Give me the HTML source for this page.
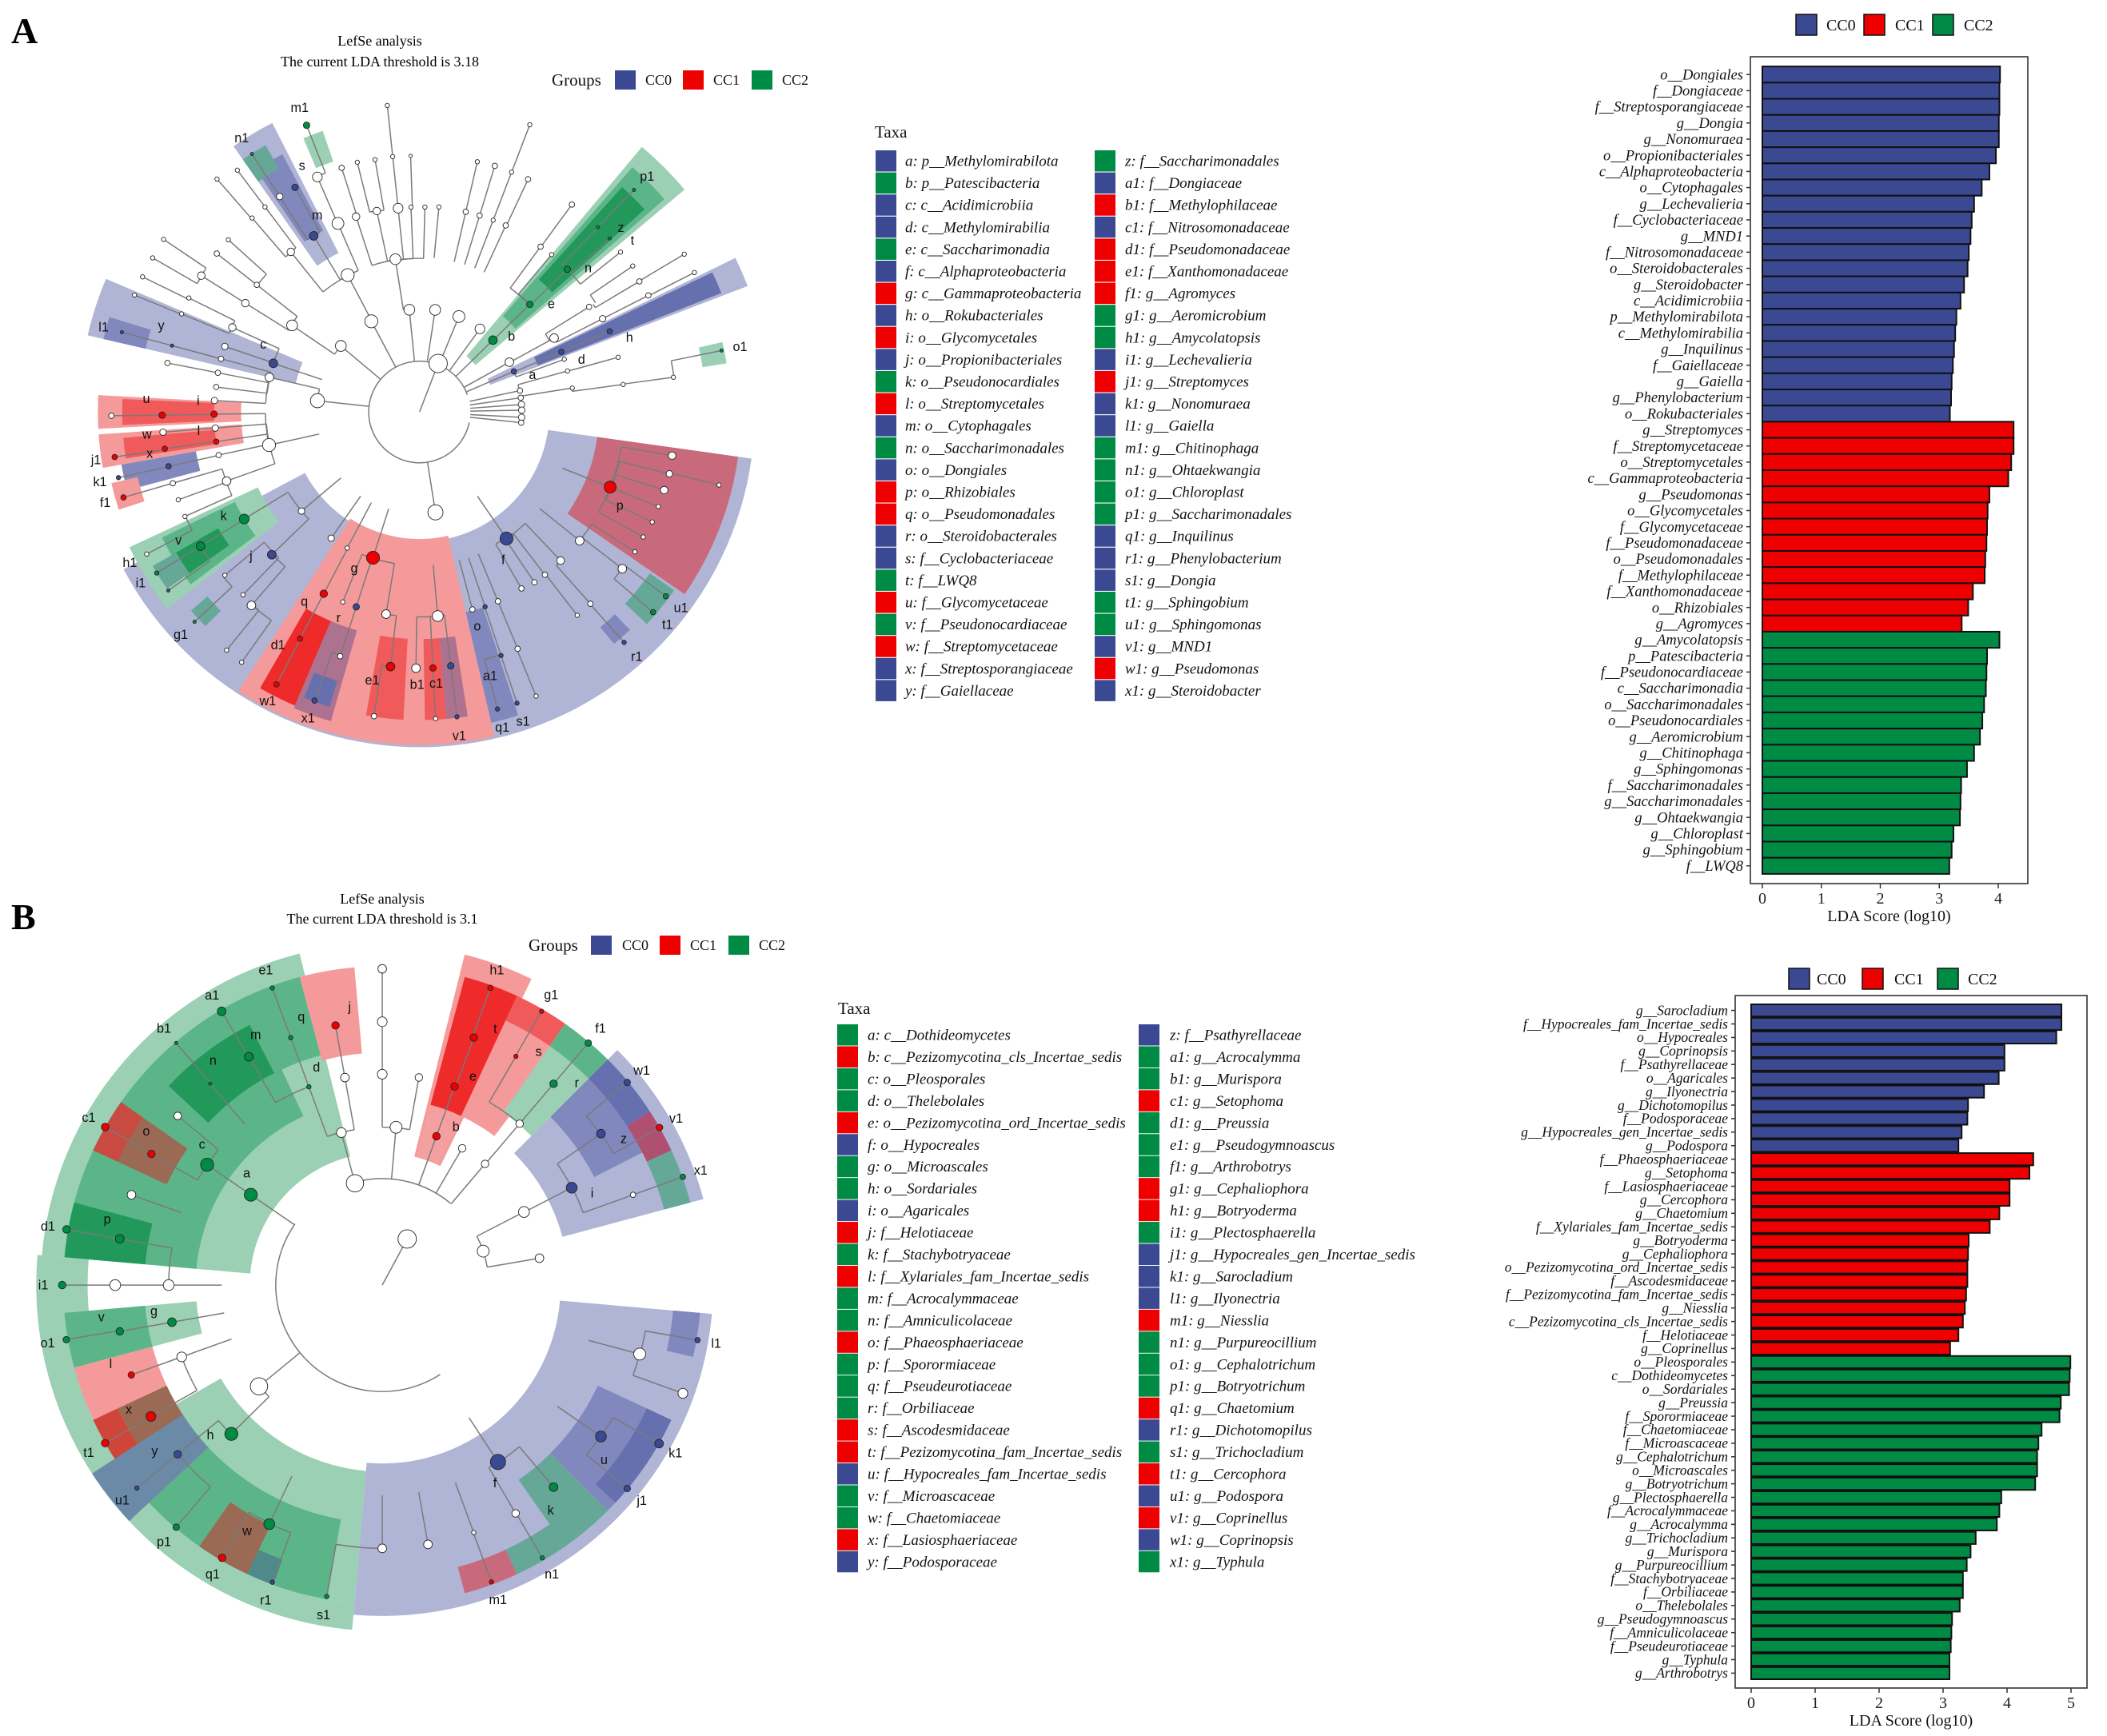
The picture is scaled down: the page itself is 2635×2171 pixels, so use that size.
<!DOCTYPE html>
<html><head><meta charset="utf-8">
<style>
html,body{margin:0;padding:0;background:#fff;}
svg{display:block;}
text{font-family:"Liberation Serif",serif;}
</style></head>
<body>
<svg id="fig" width="2635" height="2171" viewBox="0 0 2635 2171" xmlns="http://www.w3.org/2000/svg">
<rect x="0" y="0" width="2635" height="2171" fill="#fff"/>
<text x="14" y="54" font-size="46" font-weight="bold">A</text>
<text x="14" y="1162" font-size="46" font-weight="bold">B</text>
<text x="475" y="57" font-size="18" text-anchor="middle">LefSe analysis</text>
<text x="475" y="83" font-size="18" text-anchor="middle">The current LDA threshold is 3.18</text>
<text x="478" y="1130" font-size="18" text-anchor="middle">LefSe analysis</text>
<text x="478" y="1155" font-size="18" text-anchor="middle">The current LDA threshold is 3.1</text>
<g id="layer"></g>
</svg>
<script>
const NS="http://www.w3.org/2000/svg";
const COL={B:"#3B4992",R:"#EE0000",G:"#008B45",w:"#ffffff"};
// ---------- data: top bar chart ----------
const topLabels=["o__Dongiales","f__Dongiaceae","f__Streptosporangiaceae","g__Dongia","g__Nonomuraea","o__Propionibacteriales","c__Alphaproteobacteria","o__Cytophagales","g__Lechevalieria","f__Cyclobacteriaceae","g__MND1","f__Nitrosomonadaceae","o__Steroidobacterales","g__Steroidobacter","c__Acidimicrobiia","p__Methylomirabilota","c__Methylomirabilia","g__Inquilinus","f__Gaiellaceae","g__Gaiella","g__Phenylobacterium","o__Rokubacteriales","g__Streptomyces","f__Streptomycetaceae","o__Streptomycetales","c__Gammaproteobacteria","g__Pseudomonas","o__Glycomycetales","f__Glycomycetaceae","f__Pseudomonadaceae","o__Pseudomonadales","f__Methylophilaceae","f__Xanthomonadaceae","o__Rhizobiales","g__Agromyces","g__Amycolatopsis","p__Patescibacteria","f__Pseudonocardiaceae","c__Saccharimonadia","o__Saccharimonadales","o__Pseudonocardiales","g__Aeromicrobium","g__Chitinophaga","g__Sphingomonas","f__Saccharimonadales","g__Saccharimonadales","g__Ohtaekwangia","g__Chloroplast","g__Sphingobium","f__LWQ8"];
const topValues=[4.03,4.02,4.02,4.01,4.01,3.96,3.85,3.72,3.59,3.55,3.53,3.50,3.48,3.42,3.36,3.29,3.27,3.25,3.23,3.21,3.20,3.18,4.26,4.26,4.22,4.17,3.85,3.82,3.81,3.80,3.78,3.77,3.57,3.49,3.38,4.02,3.81,3.80,3.79,3.76,3.73,3.69,3.59,3.47,3.37,3.36,3.35,3.24,3.21,3.17];
const topGroups="BBBBBBBBBBBBBBBBBBBBBBRRRRRRRRRRRRRGGGGGGGGGGGGGGG".split("");
const topTicks=[0,1,2,3,4];
// ---------- data: bottom bar chart ----------
const botLabels=["g__Sarocladium","f__Hypocreales_fam_Incertae_sedis","o__Hypocreales","g__Coprinopsis","f__Psathyrellaceae","o__Agaricales","g__Ilyonectria","g__Dichotomopilus","f__Podosporaceae","g__Hypocreales_gen_Incertae_sedis","g__Podospora","f__Phaeosphaeriaceae","g__Setophoma","f__Lasiosphaeriaceae","g__Cercophora","g__Chaetomium","f__Xylariales_fam_Incertae_sedis","g__Botryoderma","g__Cephaliophora","o__Pezizomycotina_ord_Incertae_sedis","f__Ascodesmidaceae","f__Pezizomycotina_fam_Incertae_sedis","g__Niesslia","c__Pezizomycotina_cls_Incertae_sedis","f__Helotiaceae","g__Coprinellus","o__Pleosporales","c__Dothideomycetes","o__Sordariales","g__Preussia","f__Sporormiaceae","f__Chaetomiaceae","f__Microascaceae","g__Cephalotrichum","o__Microascales","g__Botryotrichum","g__Plectosphaerella","f__Acrocalymmaceae","g__Acrocalymma","g__Trichocladium","g__Murispora","g__Purpureocillium","f__Stachybotryaceae","f__Orbiliaceae","o__Thelebolales","g__Pseudogymnoascus","f__Amniculicolaceae","f__Pseudeurotiaceae","g__Typhula","g__Arthrobotrys"];
const botValues=[4.85,4.85,4.77,3.96,3.96,3.87,3.64,3.39,3.38,3.29,3.24,4.41,4.35,4.04,4.04,3.88,3.73,3.40,3.39,3.38,3.38,3.36,3.34,3.31,3.24,3.11,4.99,4.98,4.97,4.84,4.82,4.54,4.49,4.47,4.47,4.44,3.91,3.88,3.84,3.51,3.43,3.37,3.31,3.31,3.26,3.14,3.13,3.12,3.10,3.10];
const botGroups="BBBBBBBBBBBRRRRRRRRRRRRRRRGGGGGGGGGGGGGGGGGGGGGGGG".split("");
const botTicks=[0,1,2,3,4,5];
// ---------- taxa legends ----------
const taxaA=[["a: p__Methylomirabilota","B"],["b: p__Patescibacteria","G"],["c: c__Acidimicrobiia","B"],["d: c__Methylomirabilia","B"],["e: c__Saccharimonadia","G"],["f: c__Alphaproteobacteria","B"],["g: c__Gammaproteobacteria","R"],["h: o__Rokubacteriales","B"],["i: o__Glycomycetales","R"],["j: o__Propionibacteriales","B"],["k: o__Pseudonocardiales","G"],["l: o__Streptomycetales","R"],["m: o__Cytophagales","B"],["n: o__Saccharimonadales","G"],["o: o__Dongiales","B"],["p: o__Rhizobiales","R"],["q: o__Pseudomonadales","R"],["r: o__Steroidobacterales","B"],["s: f__Cyclobacteriaceae","B"],["t: f__LWQ8","G"],["u: f__Glycomycetaceae","R"],["v: f__Pseudonocardiaceae","G"],["w: f__Streptomycetaceae","R"],["x: f__Streptosporangiaceae","B"],["y: f__Gaiellaceae","B"],
["z: f__Saccharimonadales","G"],["a1: f__Dongiaceae","B"],["b1: f__Methylophilaceae","R"],["c1: f__Nitrosomonadaceae","B"],["d1: f__Pseudomonadaceae","R"],["e1: f__Xanthomonadaceae","R"],["f1: g__Agromyces","R"],["g1: g__Aeromicrobium","G"],["h1: g__Amycolatopsis","G"],["i1: g__Lechevalieria","B"],["j1: g__Streptomyces","R"],["k1: g__Nonomuraea","B"],["l1: g__Gaiella","B"],["m1: g__Chitinophaga","G"],["n1: g__Ohtaekwangia","G"],["o1: g__Chloroplast","G"],["p1: g__Saccharimonadales","G"],["q1: g__Inquilinus","B"],["r1: g__Phenylobacterium","B"],["s1: g__Dongia","B"],["t1: g__Sphingobium","G"],["u1: g__Sphingomonas","G"],["v1: g__MND1","B"],["w1: g__Pseudomonas","R"],["x1: g__Steroidobacter","B"]];
const taxaB=[["a: c__Dothideomycetes","G"],["b: c__Pezizomycotina_cls_Incertae_sedis","R"],["c: o__Pleosporales","G"],["d: o__Thelebolales","G"],["e: o__Pezizomycotina_ord_Incertae_sedis","R"],["f: o__Hypocreales","B"],["g: o__Microascales","G"],["h: o__Sordariales","G"],["i: o__Agaricales","B"],["j: f__Helotiaceae","R"],["k: f__Stachybotryaceae","G"],["l: f__Xylariales_fam_Incertae_sedis","R"],["m: f__Acrocalymmaceae","G"],["n: f__Amniculicolaceae","G"],["o: f__Phaeosphaeriaceae","R"],["p: f__Sporormiaceae","G"],["q: f__Pseudeurotiaceae","G"],["r: f__Orbiliaceae","G"],["s: f__Ascodesmidaceae","R"],["t: f__Pezizomycotina_fam_Incertae_sedis","R"],["u: f__Hypocreales_fam_Incertae_sedis","B"],["v: f__Microascaceae","G"],["w: f__Chaetomiaceae","G"],["x: f__Lasiosphaeriaceae","R"],["y: f__Podosporaceae","B"],
["z: f__Psathyrellaceae","B"],["a1: g__Acrocalymma","G"],["b1: g__Murispora","G"],["c1: g__Setophoma","R"],["d1: g__Preussia","G"],["e1: g__Pseudogymnoascus","G"],["f1: g__Arthrobotrys","G"],["g1: g__Cephaliophora","R"],["h1: g__Botryoderma","R"],["i1: g__Plectosphaerella","G"],["j1: g__Hypocreales_gen_Incertae_sedis","B"],["k1: g__Sarocladium","B"],["l1: g__Ilyonectria","B"],["m1: g__Niesslia","R"],["n1: g__Purpureocillium","G"],["o1: g__Cephalotrichum","G"],["p1: g__Botryotrichum","G"],["q1: g__Chaetomium","R"],["r1: g__Dichotomopilus","B"],["s1: g__Trichocladium","G"],["t1: g__Cercophora","R"],["u1: g__Podospora","B"],["v1: g__Coprinellus","R"],["w1: g__Coprinopsis","B"],["x1: g__Typhula","G"]];

const layer=document.getElementById("layer");
function el(tag,attrs,parent){const e=document.createElementNS(NS,tag);for(const k in attrs)e.setAttribute(k,attrs[k]);(parent||layer).appendChild(e);return e;}
function txt(s,attrs,parent){const e=el("text",attrs,parent);e.textContent=s;return e;}

// ---------- bar chart ----------
function barChart(o){
  const g=el("g",{});
  
  
  const n=o.labels.length, unit=(o.y1-o.y0)/(n+1.2);
  const xs=v=>o.x0+v*o.unit;
  const fr=el("rect",{x:o.px0,y:o.y0,width:o.px1-o.px0,height:o.y1-o.y0,fill:"#fff",stroke:"#333","stroke-width":1.6},g);
  
  
  for(let i=0;i<n;i++){
    const cy=o.y0+(0.6+i+0.5)*unit, bh=unit*o.bw;
    const r=el("rect",{x:xs(0),y:cy-bh/2,width:xs(o.values[i])-xs(0),height:bh,fill:COL[o.groups[i]],stroke:"#111","stroke-width":2},g);
    
    
    el("line",{x1:o.px0-5,x2:o.px0,y1:cy,y2:cy,stroke:"#333","stroke-width":1.5},g);
    const t=txt(o.labels[i],{x:o.px0-9,y:cy+o.fs*0.33,"font-size":o.fs,"font-style":"italic","text-anchor":"end",fill:"#111"},g);
    
    
  }
  o.ticks.forEach(v=>{
    el("line",{x1:xs(v),x2:xs(v),y1:o.y1,y2:o.y1+6,stroke:"#333","stroke-width":1.5},g);
    const t=txt(String(v),{x:xs(v),y:o.y1+25,"font-size":20,"text-anchor":"middle",fill:"#222"},g);
    
    
  });
  const at=txt("LDA Score (log10)",{x:(o.px0+o.px1)/2,y:o.y1+47,"font-size":20,"text-anchor":"middle",fill:"#111"},g);
  
  
  const lg=el("g",{},g);
  
  
  o.leg.forEach(([bx,tx,k,lab])=>{
    const b=el("rect",{x:bx,y:o.ly,width:26,height:26,fill:COL[k],stroke:"#111","stroke-width":1.5},lg);
    
    
    const t=txt(lab,{x:tx,y:o.ly+20,"font-size":20,fill:"#111"},lg);
    
    
  });
}
barChart({name:"lda-bar-chart-a",labels:topLabels,values:topValues,groups:topGroups,ticks:topTicks,x0:2204,unit:73.75,px0:2189,px1:2536,y0:71,y1:1105,bw:1.0,fs:18.5,ly:18,leg:[[2246,2284,"B","CC0"],[2331,2370,"R","CC1"],[2417,2456,"G","CC2"]]});
barChart({name:"lda-bar-chart-b",labels:botLabels,values:botValues,groups:botGroups,ticks:botTicks,x0:2190,unit:80,px0:2170,px1:2610,y0:1245,y1:2111,bw:0.9,fs:17.5,ly:1211,leg:[[2237,2272,"B","CC0"],[2329,2369,"R","CC1"],[2423,2461,"G","CC2"]]});

// ---------- taxa legends ----------
function taxaLegend(list,o){
  const g=el("g",{});
  
  
  const tt=txt("Taxa",{x:o.tx,y:o.ty,"font-size":21,fill:"#111"},g);
  
  
  list.forEach(([s,k],i)=>{
    const c=Math.floor(i/25), r=i%25;
    const cy=o.y0+r*o.step, bx=o.bx[c];
    const b=el("rect",{x:bx,y:cy-13,width:26,height:26.5,fill:COL[k]},g);
    
    
    const t=txt(s,{x:o.txx[c],y:cy+6.5,"font-size":19,"font-style":"italic",fill:"#111"},g);
    
    
  });
}
taxaLegend(taxaA,{name:"taxa-legend-a",tx:1094,ty:172,y0:201,step:27.6,bx:[1095,1369],txx:[1132,1407]});
taxaLegend(taxaB,{name:"taxa-legend-b",tx:1048,ty:1268,y0:1294,step:27.45,bx:[1047,1424],txx:[1085,1463]});

// ---------- group legends ----------
function groupLegend(o){
  const g=el("g",{});
  
  
  const t=txt("Groups",{x:o.gx,y:o.y+19,"font-size":21,fill:"#111"},g);
  
  
  o.items.forEach(([bx,tx,k,lab])=>{
    const b=el("rect",{x:bx,y:o.y,width:26,height:24,fill:COL[k]},g);
    
    
    const l=txt(lab,{x:tx,y:o.y+18,"font-size":18,fill:"#111"},g);
    
    
  });
}
groupLegend({name:"groups-legend-a",gx:690,y:88,items:[[769,807,"B","CC0"],[854,892,"R","CC1"],[940,978,"G","CC2"]]});
groupLegend({name:"groups-legend-b",gx:661,y:1170,items:[[739,778,"B","CC0"],[825,863,"R","CC1"],[911,949,"G","CC2"]]});

// ---------- cladograms ----------
const LB="#b0b4d5",MB="#8088bd",DB="#6670ae",LR="#f59a9a",MR="#f05a5a",BR="#ee2a2a",LG="#9bd0b5",MG="#5cb588",DG="#22995a",PR="#ac7290",DR="#c96a7c",TE="#66a898",BRN="#9a6a55";
const sectA=[[8,152,240,620,LB],[77,123,235,616,LR],[113,120,420,590,BR],[106,113,420,595,PR],[107,112,520,570,DB],[93,100,420,570,MR],[85,89,420,570,MR],[81,85,420,570,PR],[72,77,380,590,MB],[8,34.5,332,595,DR],[46,50,520,560,MB],[35,43,520,575,TE],
[142,155,330,592,LG],[143,154,380,530,MG],[145,150,430,530,DG],[145,150,520,570,TE],[135,139,520,560,TE],
[-50,-40,135,640,LG],[-49,-41,235,600,MG],[-48,-42,330,560,DG],[-26,-21,140,650,LB],[-25.5,-21.5,235,600,DB],[-13,-9,530,575,LG],
[-125,-117,330,600,LB],[-124,-118,380,540,MB],[-125,-120,520,570,TE],[-113,-109,490,550,LG],
[-167,-157,235,630,LB],[-167,-163,520,600,MB],[177,183,330,595,LR],[177.5,182.5,380,550,MR],[170,176,330,595,LR],[171,175,380,550,MR],[165,170,420,560,MB],[162,167,535,585,LR]];
const nodeA=[[-96,570,"w",4],[-69,569,"w",4],[-131,571,"w",4],[-127,560,"w",4],[-107.7,474,"w",5],[-104,476,"w",4],[-100,474,"w",4],[-96,475,"w",4],[-92,474,"w",3],[-77,475,"w",4],[-73,476,"w",5],[-69,475,"w",4],[-65,475,"w",5],[-146,571,"w",4],[-150,570,"w",4],[-154,570,"w",4],[-157.7,570,"w",4],[-138,476,"w",4],[-53.7,476,"w",5],[-38.5,475,"w",4],[-30.8,570,"w",4],[-26.9,570,"w",4],[-34.4,478,"w",4],[-7.8,474,"w",4],
[-111.5,570,"G",6,"m1"],[-123,569,"G",3,"n1"],[-119,475,"B",6,"s"],[-121,380,"B",8,"m"],[-46,571,"G",3,"p1"],[-46,475,"G",3,"z"],[-42.4,476,"G",3,"t"],[-44,380,"G",6,"n"],[-44.3,285,"G",6,"e"],[-44.4,190,"G",8,"b"],[-23,382,"B",5,"h"],[-23,285,"B",5,"d"],[-23.3,190,"B",5,"a"],[-11.5,570,"G",3,"o1"],[-165,570,"B",3,"l1"],[-165,474,"B",3,"y"],[-161.6,285,"B",8,"c"],
[179.3,570,"w",5],[179.3,476,"R",6,"u"],[179.4,380,"R",6,"i"],[171.6,570,"R",5,"j1"],[171.8,476,"R",5,"w"],[171.7,380,"R",5,"l"],[167.7,570,"B",4,"k1"],[167.8,475,"B",5,"x"],[163.9,570,"R",5,"f1"],
[148.6,380,"G",9,"k"],[148.5,475,"G",8,"v"],[152.5,569,"w",4,"h1"],[148.5,570,"G",4,"i1"],[144.6,570,"B",3],[137,569,"G",3,"g1"],[136,380,"B",8,"j"],[131,474,"w",8],[125.4,568,"w",4],[129,567,"w",4],[140,470,"w",4],[134,470,"w",4],
[107.7,283,"R",12,"g"],[117.8,380,"R",7,"q"],[117.8,474,"R",5,"d1"],[117.7,569,"R",5,"w1"],[108,379,"B",6,"r"],[108,475,"w",5],[110,568,"B",5,"x1"],[99.4,379,"w",8],[96.5,474,"R",8,"e1"],[98.5,569,"w",5],[90.8,474,"w",8],[87,474,"R",6,"b1"],[83,473,"B",6,"c1"],[84.9,379,"w",10],[87,568,"w",4],[83,568,"B",4,"v1"],[112,379,"w",4],[118,285,"w",4],
[55.5,284,"B",12,"f"],[71.4,380,"B",4,"o"],[71.5,475,"B",4,"a1"],[75.3,568,"B",4,"q1"],[71.5,568,"B",4,"s1"],[67.5,474,"w",5],[67.7,568,"w",4],[75,378,"w",5],[67.5,379,"w",5],[60,377,"w",5],[56,380,"w",5],[52.4,380,"w",5],[46.5,379,"w",7],[38.8,380,"w",8],[37.7,474,"w",8],[48.3,475,"w",5],[52.2,476,"w",4],[48.4,570,"B",4,"r1"],[40.6,569,"G",5,"t1"],[36.8,569,"G",5,"u1"],
[21.5,379,"R",11,"p"],[9.8,474,"w",7],[13.9,476,"w",6],[17.7,475,"w",7],[21.6,475,"w",4],[25.3,476,"w",4],[29.2,474,"w",4],[33,475,"w",4],[13.7,570,"w",4],
[-4.2,189,"w",6],[-1,189,"w",6],[3,189,"w",6],[6,189,"w",5],[-8,189,"w",5],[-12,190,"w",5],[-29,190,"w",8],[-28.8,284,"w",8],[-15.4,381,"w",4],[-8.9,286,"w",4],[-7.7,380,"w",4],[-15.5,284,"w",4],[-31.8,369,"w",5],[-27,380,"w",6],[-27,475,"w",5],[-30.7,473,"w",5],[-53.8,379,"w",5],[-50,380,"w",4],[-20,285,"w",4],
[-113.4,380,"w",11],[-113.5,474,"w",9],[-108,380,"w",7],[-102,380,"w",7],[-96,379,"w",9],[-92.4,379,"w",4],[-88.5,379,"w",4],[-84.6,381,"w",4],[-77,380,"w",5],[-73,380,"w",5],[-69,380,"w",4],[-65.2,380,"w",5],[-123,475,"w",6],[-127,475,"w",4],[-130.8,474,"w",4],[-128.8,380,"w",7],[-142,382,"w",5],[-148,380,"w",7],[-155.7,380,"w",7],[-148,476,"w",7],[-142,476,"w",5],[-153.7,476,"w",4],[-157.6,476,"w",4],[-161.4,380,"w",6],[-165,380,"w",5],[-169,380,"w",5],[-169,475,"w",5],[-167,285,"w",8],[-173,379,"w",5],[-176.8,380,"w",6],[175.5,476,"w",6],[175.5,379,"w",6],[167.9,380,"w",5],[160.3,379,"w",8],[163.9,475,"w",5],[160,475,"w",4],[156,475,"w",4],
[-117.7,286,"w",12],[-118,190,"w",12],[-95.7,190,"w",10],[-99,286,"w",10],[-81.3,191,"w",10],[-67.6,191,"w",11],[-54,190,"w",9],[-145.8,285,"w",10],[-140,190,"w",10],[-173.7,190,"w",13],[167.6,285,"w",12],[81,188,"w",14],[140,285,"w",6],[125,285,"w",6],[-69,96,"w",17]];
const arcsA=[[94,12,340]];
const sectB=[[-175,-104,245,632,LG],[-175,-115,345,590,MG],[-137,-113,440,540,DG],[-155,-145,440,540,BRN],[-155,-145,540,590,"#c84a40"],[-175,-165,440,590,DG],[-117,-105,440,590,MG],[-105,-95,430,590,LR],
[-76,-64,245,630,LR],[-75,-65,345,590,BR],[-75,-65,245,345,"#f5a0a0"],[-65,-53,345,590,LR],[-65,-55,540,590,MR],[-55,-45,390,590,LG],[-55,-45,540,590,MG],
[-45,-15,345,615,LB],[-45,-27,440,590,MB],[-45,-33,540,590,DB],[-33,-25,540,590,"#b05070"],[-25,-15,540,590,TE],
[5,95,330,612,LB],[25,45,440,590,MB],[25,43,540,590,DB],[5,13,540,590,MB],[45,55,440,590,TE],[55,65,540,590,TE],[65,75,540,590,DR],
[158,185,545,640,LG],[165,175,345,615,LG],[165,175,440,590,MG],[150,165,440,590,LR],[95,160,590,640,LG],[95,150,345,590,LG],[100,150,440,590,MG],[145,155,440,540,BRN],[145,155,540,590,"#d0453a"],[137,147,440,640,"#6a8aa8"],[115,125,490,590,BRN],[105,115,540,590,"#4f8a8a"],[100,110,440,590,MG]];
const nodeB=[[-145.5,295,"G",12,"a"],[-145.5,393,"G",12,"c"],[-150.4,491,"R",7,"o"],[-150.3,590,"R",7,"c1"],[-160.2,493,"w",8],[-140.4,491,"w",7],[-170,493,"G",8,"p"],[-170,593,"G",7,"d1"],[-120.3,489,"G",8,"m"],[-120.4,587,"G",8,"a1"],[-130.5,490,"G",3,"n"],[-130.4,588,"G",3,"b1"],[-110.3,391,"G",4,"d"],[-110.3,488,"G",4,"q"],[-110.3,586,"G",4,"e1"],[-100.2,488,"R",7,"j"],[-100.2,390,"w",8],[-105,292,"w",9],[-105,195,"w",16],
[-90,585,"w",8],[-90,487,"w",9],[-90,390,"w",9],[-85,293,"w",11],[-80,390,"w",7],[-70,293,"R",7,"b"],[-70,391,"R",7,"e"],[-69.7,488,"R",7,"t"],[-70,585,"R",5,"h1"],[-59.7,293,"w",7],[-59.7,490,"R",4,"s"],[-59.8,586,"R",4,"g1"],[-49.7,294,"w",7],[-49.6,392,"w",7],[-49.6,489,"G",7,"r"],[-49.6,588,"G",6,"f1"],[-61.6,97,"w",17],
[-18.6,197,"w",11],[-9.7,295,"w",8],[-27.3,295,"w",10],[-27.2,394,"B",10,"i"],[-34.7,492,"B",8,"z"],[-39.6,588,"B",6,"w1"],[-29.6,590,"R",6,"v1"],[-19.8,493,"w",5],[-19.8,591,"G",5,"x1"],
[56.8,391,"B",14,"f"],[15,493,"w",11],[9.9,592,"B",5,"l1"],[19.8,591,"w",9],[34.7,492,"B",10,"u"],[29.8,590,"B",8,"k1"],[39.7,589,"B",6,"j1"],[49.7,490,"G",8,"k"],[59.6,585,"G",4,"n1"],[59.7,489,"w",7],[69.8,585,"R",4,"m1"],[69.7,488,"w",4],[80,487,"w",8],[90,487,"w",8],
[140.6,295,"w",16],[135.4,392,"G",12,"h"],[150.4,492,"R",9,"x"],[150.3,590,"R",7,"t1"],[140.4,491,"B",7,"y"],[140.4,589,"B",4,"u1"],[115.3,489,"G",10,"w"],[130.4,588,"G",6,"p1"],[120.4,585,"R",7,"q1"],[110.3,586,"B",4,"r1"],[100.1,585,"G",4,"s1"],
[160.3,493,"R",6,"l"],[160.3,394,"w",9],[170,395,"G",8,"g"],[170,493,"G",7,"v"],[170.2,593,"G",6,"o1"],[180,395,"w",10],[180,494,"w",10],[180,592,"G",7,"i1"]];
const arcsB=[[197,57,215],[197,-105,-50]];

function P(cx,cy,r,a){const t=a*Math.PI/180;return [cx+r*Math.cos(t),cy+r*Math.sin(t)];}
function cladogram(o){
  const g=el("g",{transform:`translate(${o.ox},${o.oy}) scale(${1/1.479})`});
  
  
  const cx=o.cx,cy=o.cy;
  o.sect.forEach(([a1,a2,r1,r2,c])=>{
    const [x1,y1]=P(cx,cy,r2,a1),[x2,y2]=P(cx,cy,r2,a2),[x3,y3]=P(cx,cy,r1,a2),[x4,y4]=P(cx,cy,r1,a1);
    const lg=(a2-a1)>180?1:0;
    const p=el("path",{d:`M${x1},${y1}A${r2},${r2} 0 ${lg} 1 ${x2},${y2}L${x3},${y3}A${r1},${r1} 0 ${lg} 0 ${x4},${y4}Z`,fill:c},g);
    
    
  });
  const ln={stroke:"#7a7a7a","stroke-width":2.2,fill:"none"};
  o.arcs.forEach(([r,a1,a2])=>{
    const [x1,y1]=P(cx,cy,r,a1),[x2,y2]=P(cx,cy,r,a2);const lg=(a2-a1)>180?1:0;
    el("path",Object.assign({d:`M${x1},${y1}A${r},${r} 0 ${lg} 1 ${x2},${y2}`},ln),g);
  });
  o.nodes.forEach(nd=>{
    const [a,r]=nd; if(r<120){const [x,y]=P(cx,cy,r,a);el("line",Object.assign({x1:cx,y1:cy,x2:x,y2:y},ln),g);return;}
    const pr=r-o.step;
    let best=null,bd=1e9;
    o.nodes.forEach(m=>{ if(m!==nd&&Math.abs(m[1]-pr)<25){let d=Math.abs(((m[0]-a+540)%360)-180); if(d<bd){bd=d;best=m;}}});
    const r0=pr<o.inner?o.inner:pr;
    const [x0,y0]=P(cx,cy,r0,a),[x1,y1]=P(cx,cy,r,a);
    el("line",Object.assign({x1:x0,y1:y0,x2:x1,y2:y1},ln),g);
    if(best&&bd<12&&bd>0.3&&pr>=o.inner){
      const rr=r0;
      const [xa,ya]=P(cx,cy,rr,best[0]);
      const diff=((best[0]-a+540)%360)-180;
      el("path",Object.assign({d:`M${x0},${y0}A${rr},${rr} 0 0 ${diff>0?1:0} ${xa},${ya}`},ln),g);
    }
  });
  o.nodes.forEach(([a,r,c,s,lab])=>{
    const [x,y]=P(cx,cy,r,a);
    const ci=el("circle",{cx:x,cy:y,r:s||4,fill:COL[c],stroke:"#222","stroke-width":1.3},g);
    
    
    if(lab){
      const outer=r>=560;
      const [lx,ly]=outer?P(cx,cy,r+35,a):P(cx,cy,r+30,a+(r>300?3.5:5));
      const t=txt(lab,{x:lx,y:ly+8,"font-size":24,"text-anchor":"middle",fill:"#111",style:'font-family:"Liberation Sans",sans-serif'},g);
      
      
    }
  });
}
cladogram({name:"cladogram-a",ox:0,oy:0,cx:776,cy:762,sect:sectA,nodes:nodeA,arcs:arcsA,step:95,inner:94});
cladogram({name:"cladogram-b",ox:0,oy:1100,cx:707,cy:750,sect:sectB,nodes:nodeB,arcs:arcsB,step:98,inner:197});
</script>
</body></html>
